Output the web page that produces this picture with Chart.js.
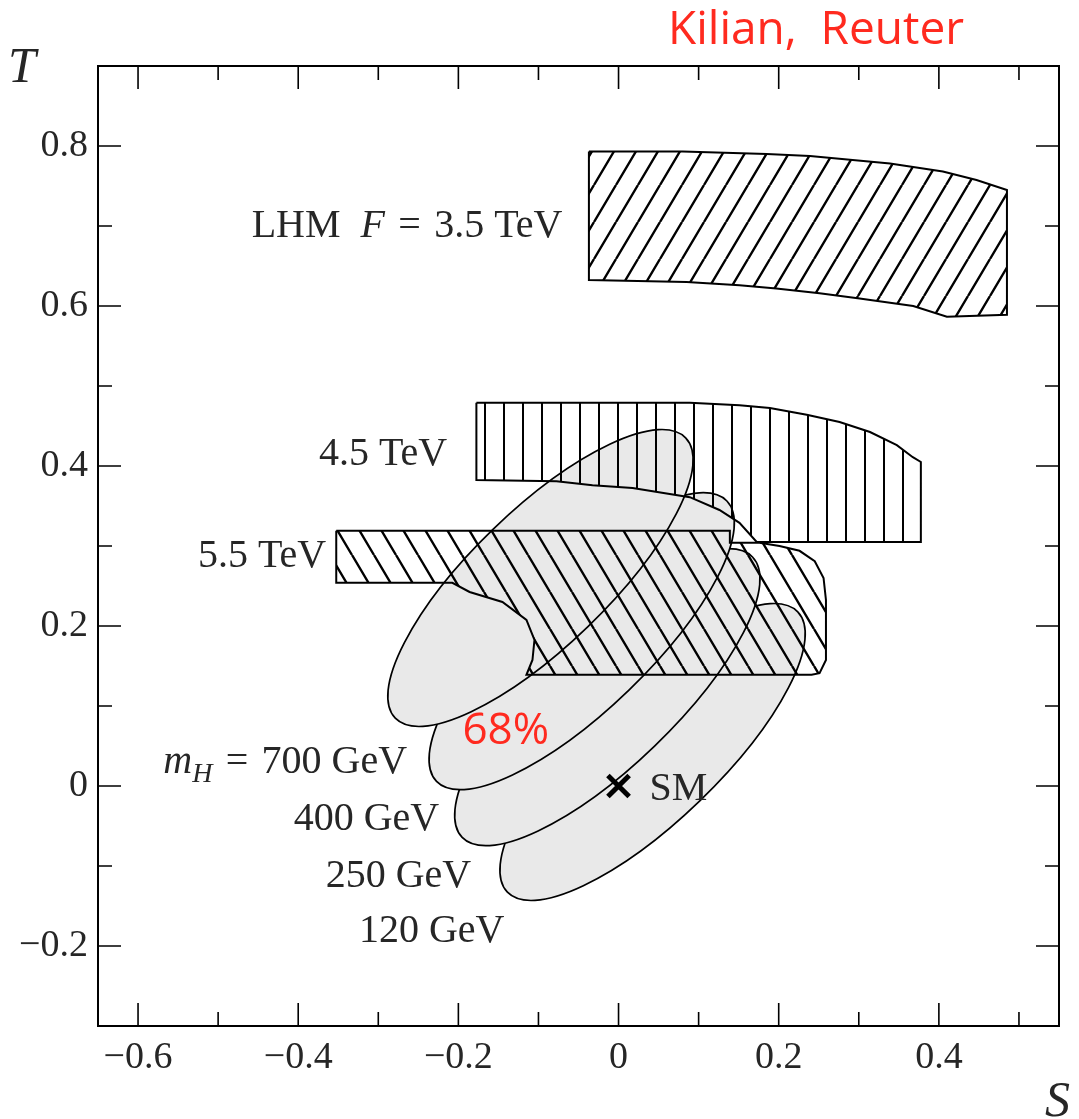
<!DOCTYPE html>
<html>
<head>
<meta charset="utf-8">
<title>S-T plane</title>
<script src="https://cdn.jsdelivr.net/npm/chart.js@4.4.0/dist/chart.umd.min.js"></script>
<style>
html, body { margin: 0; padding: 0; background: #fff; }
canvas { display: block; }
</style>
</head>
<body>
<canvas id="stchart" width="1079" height="1119"></canvas>
<script>
"use strict";

// axis ticks
var xMajor = [-0.6, -0.4, -0.2, 0, 0.2, 0.4];
var xMinor = [-0.5, -0.3, -0.1, 0.1, 0.3, 0.5];
var yMajor = [-0.2, 0, 0.2, 0.4, 0.6, 0.8];
var yMinor = [-0.1, 0.1, 0.3, 0.5, 0.7];

// 68% CL ellipses for mH = 700, 400, 250, 120 GeV
var higgsMass = ['700', '400', '250', '120'];
var ellS = [-0.0975, -0.046, -0.014, 0.0425];
var ellT = [0.26, 0.181, 0.111, 0.0425];
var ellMajor = [0.252, 0.252, 0.252, 0.252];
var ellMinor = [0.085, 0.085, 0.085, 0.085];
var ellTilt = [44, 44, 44, 44];

// LHM bands, F = 3.5 / 4.5 / 5.5 TeV
var band35S = [-0.037, 0.080, 0.185, 0.239, 0.339, 0.405, 0.447, 0.485, 0.485, 0.410, 0.368, 0.301, 0.251, 0.197, 0.151, 0.085, -0.037, -0.037];
var band35T = [0.793, 0.793, 0.790, 0.7875, 0.778, 0.768, 0.7575, 0.745, 0.589, 0.5865, 0.600, 0.6095, 0.616, 0.622, 0.626, 0.630, 0.6325, 0.793];

var band45S = [-0.1775, 0.089, 0.151, 0.189, 0.235, 0.276, 0.314, 0.3475, 0.3675, 0.3775, 0.3775, 0.1725, 0.151, 0.126, 0.089, 0.0175, -0.0325, -0.0775, -0.1775, -0.1775];
var band45T = [0.479, 0.479, 0.476, 0.4725, 0.464, 0.455, 0.4425, 0.426, 0.411, 0.405, 0.305, 0.305, 0.329, 0.345, 0.361, 0.3725, 0.376, 0.381, 0.3825, 0.479];

var band55S = [-0.3525, 0.139, 0.139, 0.176, 0.201, 0.226, 0.245, 0.256, 0.259, 0.259, 0.251, 0.241, -0.115, -0.1075, -0.105, -0.115, -0.145, -0.186, -0.2075, -0.3525, -0.3525];
var band55T = [0.319, 0.319, 0.304, 0.304, 0.300, 0.294, 0.281, 0.260, 0.2325, 0.1575, 0.141, 0.139, 0.139, 0.1575, 0.1825, 0.2075, 0.230, 0.2425, 0.254, 0.254, 0.319];

// SM reference point
var smS = [0];
var smT = [0];

// text labels (right aligned at S, baseline at T)
var labelParts = [
    [['LHM  ', 'r'], ['F', 'i'], ['\u2004=\u20043.5 TeV', 'r']],
    [['4.5 TeV', 'r']],
    [['5.5 TeV', 'r']],
    [['m', 'i'], ['H', 's'], ['\u2004=\u2004700 GeV', 'r']],
    [['400 GeV', 'r']],
    [['250 GeV', 'r']],
    [['120 GeV', 'r']]
];
var labelS = [-0.07, -0.214, -0.365, -0.264, -0.224, -0.184, -0.1425];
var labelT = [0.686, 0.401, 0.274, 0.0163, -0.055, -0.126, -0.195];

var SERIF = '"Liberation Serif", "Times New Roman", serif';
var SANS = '"Open Sans", "Noto Sans", sans-serif';
var INK = '#262626';

function pts(xs, ys) {
    return xs.map(function (v, i) { return {x: v, y: ys[i]}; });
}

function hatch(kind) {
    var c = document.createElement('canvas');
    var g = c.getContext('2d');
    var w, h;
    if (kind === '|') {
        w = 19; h = 10;
        c.width = w; c.height = h;
        g.fillStyle = '#000';
        g.fillRect(9, 0, 2, h);
    } else {
        w = 22; h = 37;
        c.width = w; c.height = h;
        g.strokeStyle = '#000';
        g.lineWidth = 2.4;
        g.beginPath();
        for (var k = -1; k <= 1; k++) {
            if (kind === '/') {
                g.moveTo(k * w, h); g.lineTo((k + 1) * w, 0);
            } else {
                g.moveTo(k * w, 0); g.lineTo((k + 1) * w, h);
            }
        }
        g.stroke();
    }
    return g.createPattern(c, 'repeat');
}

function fmt(v) {
    if (Math.abs(v) < 1e-9) return '0';
    return (v < 0 ? '\u2212' : '') + Math.abs(v).toFixed(1);
}

var ellipsePlugin = {
    id: 'ellipses',
    beforeDatasetsDraw: function (chart) {
        var c = chart.ctx, xs = chart.scales.x, ys = chart.scales.y;
        c.save();
        // heaviest mass drawn last, on top
        for (var i = higgsMass.length - 1; i >= 0; i--) {
            var cx = xs.getPixelForValue(ellS[i]);
            var cy = ys.getPixelForValue(ellT[i]);
            var rx = xs.getPixelForValue(ellS[i] + ellMajor[i]) - cx;
            var ry = cy - ys.getPixelForValue(ellT[i] + ellMinor[i]);
            c.beginPath();
            c.ellipse(cx, cy, rx, ry, -ellTilt[i] * Math.PI / 180, 0, 2 * Math.PI);
            c.fillStyle = '#e9e9e9';
            c.fill();
            c.lineWidth = 1.7;
            c.strokeStyle = '#000';
            c.stroke();
        }
        c.restore();
    }
};

var framePlugin = {
    id: 'frame',
    afterDatasetsDraw: function (chart) {
        var c = chart.ctx, a = chart.chartArea, xs = chart.scales.x, ys = chart.scales.y;
        c.save();
        c.strokeStyle = '#000';
        c.lineWidth = 1.6;
        c.beginPath();
        function xt(v, len) {
            var p = xs.getPixelForValue(v);
            c.moveTo(p, a.bottom); c.lineTo(p, a.bottom - len);
            c.moveTo(p, a.top); c.lineTo(p, a.top + len);
        }
        function yt(v, len) {
            var p = ys.getPixelForValue(v);
            c.moveTo(a.left, p); c.lineTo(a.left + len, p);
            c.moveTo(a.right, p); c.lineTo(a.right - len, p);
        }
        xMajor.forEach(function (v) { xt(v, 23); });
        xMinor.forEach(function (v) { xt(v, 14); });
        yMajor.forEach(function (v) { yt(v, 23); });
        yMinor.forEach(function (v) { yt(v, 14); });
        c.stroke();
        c.lineWidth = 2;
        c.strokeRect(a.left, a.top, a.right - a.left, a.bottom - a.top);
        c.restore();
    }
};

function drawRich(c, parts, xRight, yBase) {
    var fonts = {
        r: '40px ' + SERIF,
        i: 'italic 40px ' + SERIF,
        s: 'italic 28px ' + SERIF
    };
    var total = 0;
    parts.forEach(function (p) {
        c.font = fonts[p[1]];
        total += c.measureText(p[0]).width;
    });
    var x = xRight - total;
    parts.forEach(function (p) {
        c.font = fonts[p[1]];
        c.fillText(p[0], x, p[1] === 's' ? yBase + 9 : yBase);
        x += c.measureText(p[0]).width;
    });
}

var labelPlugin = {
    id: 'labels',
    afterDraw: function (chart) {
        var c = chart.ctx, a = chart.chartArea, xs = chart.scales.x, ys = chart.scales.y;
        c.save();
        c.fillStyle = INK;
        c.textAlign = 'left';
        c.textBaseline = 'alphabetic';
        labelParts.forEach(function (parts, i) {
            drawRich(c, parts, xs.getPixelForValue(labelS[i]), ys.getPixelForValue(labelT[i]));
        });
        // SM label
        c.font = '40px ' + SERIF;
        c.fillText('SM', xs.getPixelForValue(smS[0]) + 31, ys.getPixelForValue(smT[0]) + 14);
        // axis titles
        c.font = 'italic 50px ' + SERIF;
        c.fillText('T', a.left - 90, a.top + 16);
        c.fillText('S', a.right - 14, a.bottom + 90);
        // red annotations
        c.fillStyle = '#ff2a1f';
        c.font = '46px ' + SANS;
        c.fillText('Kilian,  Reuter', 668, 44);
        c.font = '44px ' + SANS;
        c.fillText('68%', xs.getPixelForValue(-0.195), ys.getPixelForValue(0.053));
        c.restore();
    }
};

var ctx = document.getElementById('stchart').getContext('2d');
var stChart = new Chart(ctx, {
    type: 'scatter',
    data: {
        datasets: [{
            label: 'SM',
            data: pts(smS, smT),
            pointStyle: 'crossRot',
            pointRadius: 15,
            pointBorderWidth: 5,
            borderColor: '#000',
            backgroundColor: '#000',
            showLine: false,
            order: 0
        }, {
            label: 'F = 3.5 TeV',
            data: pts(band35S, band35T),
            showLine: true,
            fill: 'shape',
            backgroundColor: hatch('/'),
            borderColor: '#000',
            borderWidth: 2,
            pointRadius: 0,
            order: 1
        }, {
            label: 'F = 4.5 TeV',
            data: pts(band45S, band45T),
            showLine: true,
            fill: 'shape',
            backgroundColor: hatch('|'),
            borderColor: '#000',
            borderWidth: 2,
            pointRadius: 0,
            order: 2
        }, {
            label: 'F = 5.5 TeV',
            data: pts(band55S, band55T),
            showLine: true,
            fill: 'shape',
            backgroundColor: hatch('\\'),
            borderColor: '#000',
            borderWidth: 2,
            pointRadius: 0,
            order: 3
        }]
    },
    options: {
        responsive: false,
        devicePixelRatio: 1,
        animation: false,
        events: [],
        layout: {
            padding: {top: 66, right: 20, left: 0, bottom: 0}
        },
        elements: {
            line: {tension: 0, borderJoinStyle: 'miter'}
        },
        plugins: {
            legend: {display: false},
            tooltip: {enabled: false}
        },
        scales: {
            x: {
                type: 'linear',
                min: -0.65,
                max: 0.55,
                grid: {display: false, drawTicks: false},
                border: {display: false},
                afterBuildTicks: function (s) {
                    s.ticks = xMajor.map(function (v) { return {value: v}; });
                },
                afterFit: function (s) { s.height = 93; },
                ticks: {
                    autoSkip: false,
                    maxRotation: 0,
                    padding: 9,
                    color: INK,
                    font: {family: SERIF, size: 38},
                    callback: fmt
                }
            },
            y: {
                type: 'linear',
                min: -0.3,
                max: 0.9,
                grid: {display: false, drawTicks: false},
                border: {display: false},
                afterBuildTicks: function (s) {
                    s.ticks = yMajor.map(function (v) { return {value: v}; });
                },
                afterFit: function (s) { s.width = 98; },
                ticks: {
                    autoSkip: false,
                    padding: 10,
                    color: INK,
                    font: {family: SERIF, size: 38},
                    callback: fmt
                }
            }
        }
    },
    plugins: [ellipsePlugin, framePlugin, labelPlugin]
});
</script>
</body>
</html>
